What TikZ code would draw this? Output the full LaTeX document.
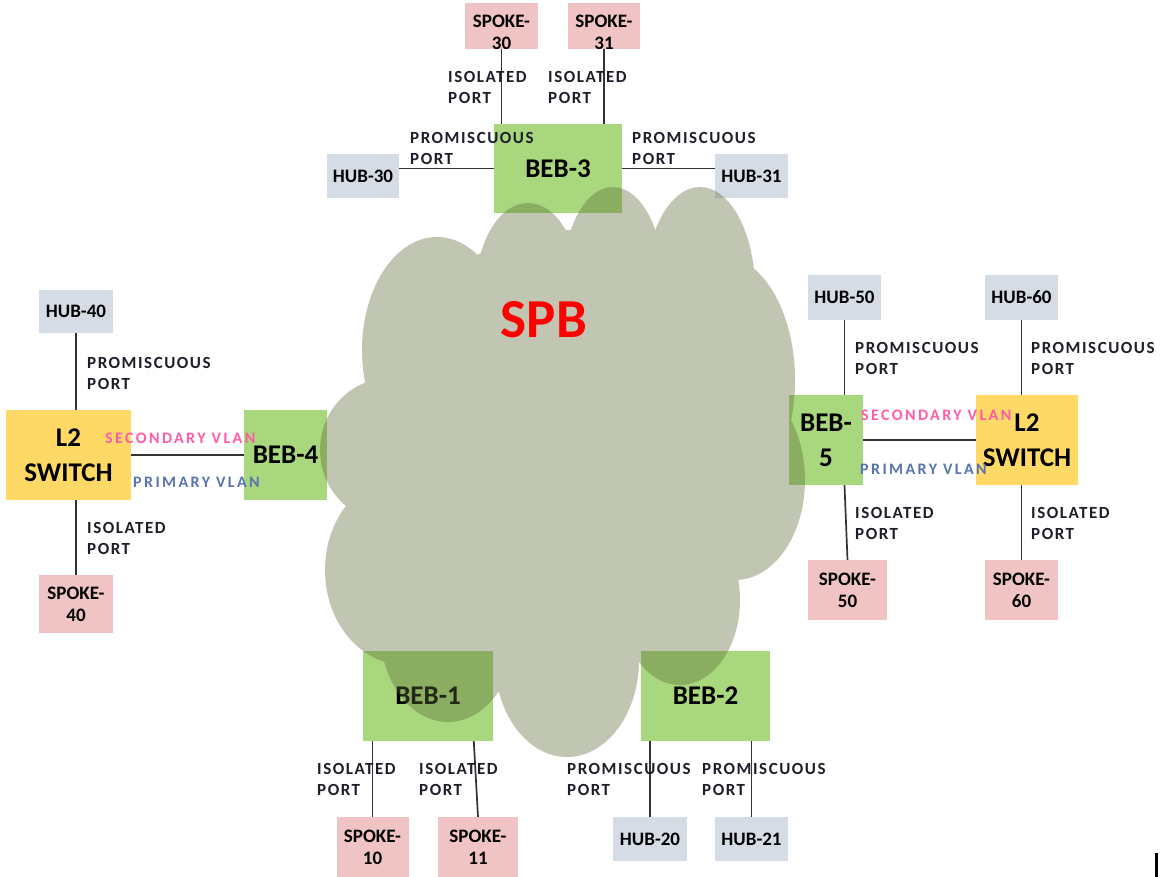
\documentclass[tikz,border=0pt]{standalone}
\usepackage{fontspec}
\newfontfamily\carl{Carlito}
\newfontfamily\portfnt[LetterSpace=9]{Carlito}
\newfontfamily\vlanfnt[LetterSpace=15]{Carlito}
\usetikzlibrary{calc}
\definecolor{hubc}{HTML}{D6DCE6}
\definecolor{spokec}{HTML}{F0C4C4}
\definecolor{bebc}{HTML}{A9D77E}
\definecolor{swc}{HTML}{FFD966}
\definecolor{cloudc}{RGB}{90,106,50}
\definecolor{portc}{HTML}{1E1E2A}
\definecolor{secc}{HTML}{FF5CA8}
\definecolor{primc}{HTML}{5874B0}
\definecolor{linec}{HTML}{333333}
\tikzset{
  box/.style={rectangle, inner sep=0pt, align=center, text=black},
  smallfont/.style={font=\carl\bfseries\fontsize{19}{22}\selectfont},
  bigfont/.style={font=\carl\bfseries\fontsize{27}{35}\selectfont},
  hubbox/.style={box, fill=hubc, smallfont},
  spokebox/.style={box, fill=spokec, smallfont},
  bebbox/.style={box, fill=bebc, bigfont},
  swbox/.style={box, fill=swc, bigfont},
  wh/.style 2 args={minimum width=#1pt, minimum height=#2pt},
  port/.style={inner sep=0pt, anchor=north west, align=left, text=portc,
    font=\portfnt\bfseries\fontsize{17}{21}\selectfont},
  vlan/.style={inner sep=0pt, anchor=north west,
    font=\vlanfnt\bfseries\fontsize{16}{20}\selectfont},
  conn/.style={draw=linec, line width=1.7pt},
}
\begin{document}
\begin{tikzpicture}[x=1pt,y=-1pt]
\fill[white] (0,0) rectangle (1162,877);
\useasboundingbox (0,0) rectangle (1162,877);

% ---- top: BEB-3 with its hubs and spokes
\node[spokebox, wh={73}{46}] (s30) at (501.5,26) {};
\node[spokebox, wh={72}{46}] (s31) at (604,26) {};
\begin{scope}
  \clip (s30.south west) rectangle (s30.north east);
  \node[box, smallfont, anchor=north] (s30t) at ([yshift=-12pt]s30.north) {SPOKE-\\30};
\end{scope}
\begin{scope}
  \clip (s31.south west) rectangle (s31.north east);
  \node[box, smallfont, anchor=north] (s31t) at ([yshift=-12pt]s31.north) {SPOKE-\\31};
\end{scope}
\node[bebbox, wh={128}{89}] (beb3) at (558,168.5) {BEB-3};
\node[hubbox, wh={72}{44}] (hub30) at (363,176) {HUB-30};
\node[hubbox, wh={73}{44}] (hub31) at (751.5,176) {HUB-31};

% ---- left: L2 switch and BEB-4
\node[hubbox, wh={74}{43}] (hub40) at (76,311.5) {HUB-40};
\node[swbox, wh={125}{90}] (l2a) at (68.5,455) {L2\\SWITCH};
\node[bebbox, wh={83}{90}] (beb4) at (285.5,455) {BEB-4};
\node[spokebox, wh={74}{58}] (spk40) at (76,604) {SPOKE-\\40};

% ---- right: BEB-5 and L2 switch
\node[hubbox, wh={73}{45}] (hub50) at (844.5,297.5) {HUB-50};
\node[hubbox, wh={73}{45}] (hub60) at (1021.5,297.5) {HUB-60};
\node[bebbox, wh={74}{90}] (beb5) at (826,440) {BEB-\\5};
\node[swbox, wh={102}{90}] (l2b) at (1027,440) {L2\\SWITCH};
\node[spokebox, wh={79}{60}] (spk50) at (847.5,590) {SPOKE-\\50};
\node[spokebox, wh={73}{60}] (spk60) at (1021.5,590) {SPOKE-\\60};

% ---- bottom: BEB-1 and BEB-2
\node[bebbox, wh={130}{90}] (beb1) at (428,696) {BEB-1};
\node[bebbox, wh={129}{90}] (beb2) at (705.5,696) {BEB-2};
\node[spokebox, wh={72}{60}] (spk10) at (372.5,847) {SPOKE-\\10};
\node[spokebox, wh={80}{60}] (spk11) at (478,847) {SPOKE-\\11};
\node[hubbox, wh={74}{44}] (hub20) at (650,839) {HUB-20};
\node[hubbox, wh={73}{44}] (hub21) at (751.5,839) {HUB-21};

% ---- the SPB cloud: union of lobes, one translucent fill
\fill[cloudc, fill opacity=0.38]
  (437,350) ellipse [x radius=75pt, y radius=113pt]
  (528,290) ellipse [x radius=52pt, y radius=87pt]
  (613,280) ellipse [x radius=50pt, y radius=93pt]
  (700,290) ellipse [x radius=55pt, y radius=103pt]
  (720,380) ellipse [x radius=75pt, y radius=125pt]
  (735,480) ellipse [x radius=70pt, y radius=100pt]
  (680,600) ellipse [x radius=60pt, y radius=85pt]
  (567,660) ellipse [x radius=72pt, y radius=97pt]
  (448,630) ellipse [x radius=68pt, y radius=92pt]
  (405,570) ellipse [x radius=80pt, y radius=95pt]
  (390,450) ellipse [x radius=70pt, y radius=72pt]
  (570,450) ellipse [x radius=200pt, y radius=220pt];
\node[inner sep=0pt, text=red, font=\carl\bfseries\fontsize{55}{60}\selectfont] (spb) at (544,320) {SPB};

% ---- connectors
\draw[conn] (s30.south) -- (s30.south |- beb3.north);
\draw[conn] (s31.south) -- (s31.south |- beb3.north);
\draw[conn] (beb3.west) -- (beb3.west -| hub30.east);
\draw[conn] (beb3.east) -- (beb3.east -| hub31.west);
\draw[conn] (hub40.south) -- (hub40.south |- l2a.north);
\draw[conn] (spk40.north |- l2a.south) -- (spk40.north);
\draw[conn] (l2a.east) -- (l2a.east -| beb4.west);
\draw[conn] (hub50.south) -- (hub50.south |- beb5.north);
\draw[conn] (hub50.south |- beb5.south) -- (spk50.north);
\draw[conn] (beb5.east) -- (beb5.east -| l2b.west);
\draw[conn] (hub60.south) -- (hub60.south |- l2b.north);
\draw[conn] (hub60.south |- l2b.south) -- (spk60.north);
\draw[conn] (spk10.north |- beb1.south) -- (spk10.north);
\coordinate (b1r) at ($(beb1.south west)+(111,0)$);
\draw[conn] (b1r) -- (spk11.north);
\draw[conn] (hub20.north |- beb2.south) -- (hub20.north);
\draw[conn] (hub21.north |- beb2.south) -- (hub21.north);

% ---- port labels
\node[port] (p1) at (448,71) {ISOLATED\\PORT};
\node[port] (p2) at (548,71) {ISOLATED\\PORT};
\node[port] (p3) at (410,132) {PROMISCUOUS\\PORT};
\node[port] (p4) at (632,132) {PROMISCUOUS\\PORT};
\node[port] (p5) at (87,357) {PROMISCUOUS\\PORT};
\node[port] (p6) at (87,522) {ISOLATED\\PORT};
\node[port] (p7) at (855,342) {PROMISCUOUS\\PORT};
\node[port] (p8) at (1031,342) {PROMISCUOUS\\PORT};
\node[port] (p9) at (855,507) {ISOLATED\\PORT};
\node[port] (p10) at (1031,507) {ISOLATED\\PORT};
\node[port] (p11) at (317,763) {ISOLATED\\PORT};
\node[port] (p12) at (419,763) {ISOLATED\\PORT};
\node[port] (p13) at (567,763) {PROMISCUOUS\\PORT};
\node[port] (p14) at (702,763) {PROMISCUOUS\\PORT};

% ---- VLAN labels
\node[vlan, text=secc] (v1) at (105,433) {SECONDARY VLAN};
\node[vlan, text=primc] (v2) at (133,477) {PRIMARY VLAN};
\node[vlan, text=secc] (v3) at (861,410) {SECONDARY VLAN};
\node[vlan, text=primc] (v4) at (860,464) {PRIMARY VLAN};

% ---- small mark at the lower right edge
\fill[black] (1155,853) rectangle (1158,877);
\end{tikzpicture}
\end{document}
